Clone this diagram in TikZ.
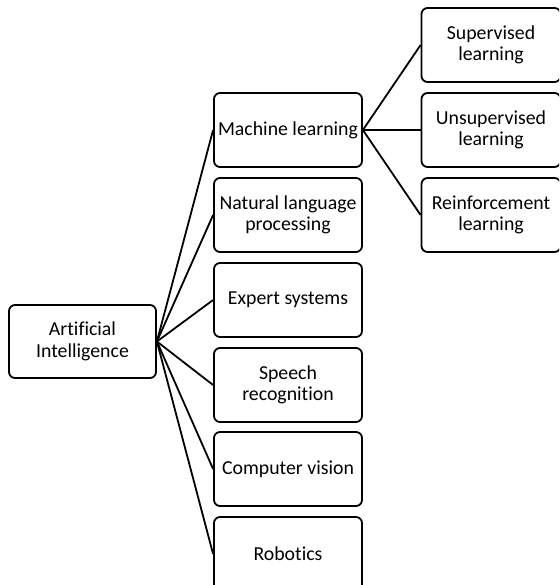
\documentclass[tikz,border=0pt]{standalone}
\usepackage{fontspec}
\setmainfont[Ligatures=NoCommon]{Carlito}
\begin{document}
\begin{tikzpicture}[x=1pt,y=-1pt,
  box/.style={draw=black,line width=1.8pt,rounded corners=6pt,fill=white,
    minimum width=148pt,minimum height=74pt,inner sep=0pt,align=center,
    font=\fontsize{19.8}{21.5}\selectfont},
  rbox/.style={box,minimum width=139pt},
  conn/.style={draw=black,line width=1.8pt}]
\useasboundingbox (0,0) rectangle (559,585);
\clip (0,0) rectangle (559,585);
\node[box,minimum width=147pt,minimum height=73pt] (ai) at (82.5,341.5) {Artificial\\Intelligence};
\node[box] (ml) at (288,130) {Machine learning};
\node[box] (nlp) at (288,215) {Natural language\\processing};
\node[box] (es) at (288,300) {Expert systems};
\node[box] (sr) at (288,385) {Speech\\recognition};
\node[box] (cv) at (288,469) {Computer vision};
\node[box] (rob) at (288,554) {Robotics};
\node[rbox] (sl) at (491,45) {Supervised\\learning};
\node[rbox] (ul) at (491,130) {Unsupervised\\learning};
\node[rbox] (rl) at (491,215) {Reinforcement\\learning};
\foreach \t in {ml,nlp,es,sr,cv,rob}{\draw[conn] (ai.east) -- (\t.west);}
\foreach \t in {sl,ul,rl}{\draw[conn] (ml.east) -- (\t.west);}
\end{tikzpicture}
\end{document}
